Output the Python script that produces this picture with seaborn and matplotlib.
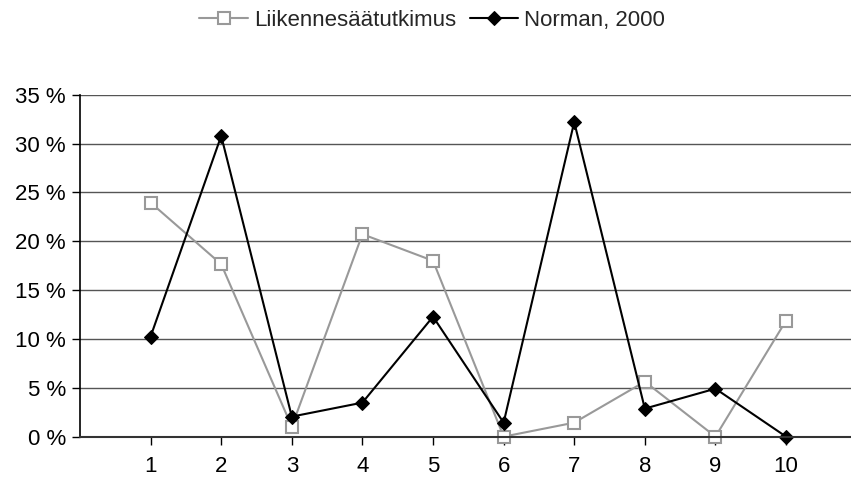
import matplotlib
matplotlib.use("Agg")
import matplotlib.pyplot as plt
from matplotlib.ticker import FuncFormatter, MultipleLocator
import seaborn as sns
import pandas as pd

sns.set_theme(style="white")
plt.rcParams["font.family"] = ["Liberation Sans", "DejaVu Sans"]

categories = [1, 2, 3, 4, 5, 6, 7, 8, 9, 10]
liikenne = [0.2395, 0.1765, 0.0102, 0.2072, 0.180, 0.0, 0.0143, 0.0563, 0.0, 0.1187]
norman = [0.1024, 0.3078, 0.0205, 0.0348, 0.1228, 0.0143, 0.322, 0.0287, 0.0491, 0.0]
series_names = ["Liikennesäätutkimus", "Norman, 2000"]

df = pd.DataFrame({"x": categories, series_names[0]: liikenne, series_names[1]: norman})

fig = plt.figure(figsize=(8.51, 4.83), dpi=100)
ax = fig.add_axes([0.094, 0.096, 0.906, 0.708])

ax.yaxis.grid(True, color="#555555", linewidth=1.0)
ax.set_axisbelow(True)

sns.lineplot(data=df, x="x", y=series_names[0], ax=ax, color="#999999", linewidth=1.5,
             marker="s", markersize=8, markerfacecolor="white", markeredgecolor="#999999",
             markeredgewidth=1.5, label=series_names[0], clip_on=False, legend=False)
sns.lineplot(data=df, x="x", y=series_names[1], ax=ax, color="black", linewidth=1.5,
             marker="D", markersize=7, markerfacecolor="black", markeredgecolor="black",
             label=series_names[1], clip_on=False, legend=False)

ax.set_xlim(0, 10.92)
ax.set_ylim(0, 0.35)
ax.yaxis.set_major_locator(MultipleLocator(0.05))
ax.yaxis.set_major_formatter(FuncFormatter(lambda v, p: f"{v*100:.0f} %"))
ax.set_xticks(categories)
ax.set_xticklabels([str(c) for c in categories])
ax.set_xlabel("")
ax.set_ylabel("")

for s in ["top", "right"]:
    ax.spines[s].set_visible(False)
ax.spines["left"].set_color("black")
ax.spines["bottom"].set_color("#333333")
ax.spines["bottom"].set_linewidth(1.5)
ax.spines["left"].set_linewidth(1.2)

ax.tick_params(axis="both", which="major", length=6, width=1, color="black",
               direction="out", labelsize=16, labelcolor="black", left=True, bottom=True)
ax.tick_params(axis="x", pad=8)
ax.tick_params(axis="y", pad=4)

handles, labels = ax.get_legend_handles_labels()
fig.legend(handles, labels, loc="center", bbox_to_anchor=(0.508, 0.958), ncol=2, frameon=False,
           fontsize=16, handlelength=2.2, handletextpad=0.27, columnspacing=0.6,
           borderpad=0, borderaxespad=0)

fig.savefig("out.png", dpi=100)
